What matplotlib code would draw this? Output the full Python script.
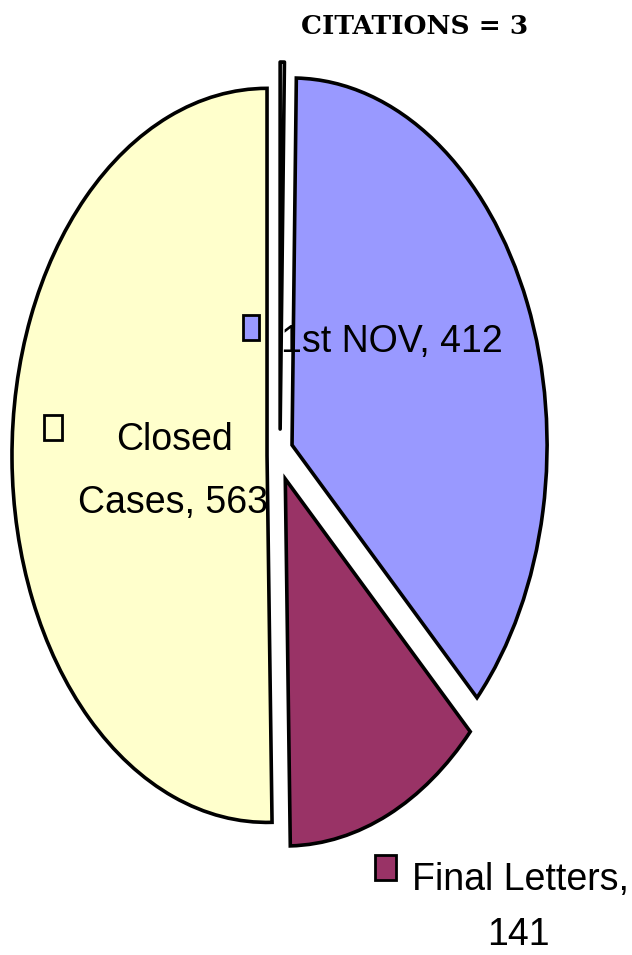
import matplotlib.pyplot as plt
import numpy as np
from matplotlib.patches import Rectangle

labels = ['CITATIONS', '1st NOV', 'Final Letters', 'Closed Cases']
values = [3, 412, 141, 563]
colors = ['#FFFFFF', '#9999FF', '#993366', '#FFFFCC']

W, H = 632, 955
fig = plt.figure(figsize=(W / 100, H / 100), dpi=100)
ax = fig.add_axes([0, 0, 1, 1])

wedges, _ = ax.pie(values, colors=colors, startangle=90, counterclock=False,
                   wedgeprops=dict(edgecolor='black', linewidth=2.6))

# exploded slices (the chart is stretched, so explode differs in x and y)
ex, ey = 0.051, 0.071
for w in wedges:
    mid = np.deg2rad((w.theta1 + w.theta2) / 2)
    w.set_center((ex * np.cos(mid), ey * np.sin(mid)))
wedges[0].set_joinstyle('round')

ax.set_aspect('auto')
ax.set_xlim(-1.098, 1.380)
ax.set_ylim(-1.362, 1.240)
ax.axis('off')


def px(x, y):
    return x / W, 1 - y / H


def key(x0, y0, x1, y1, color):
    fx, fy = px(x0, y1)
    fig.patches.append(Rectangle((fx, fy), (x1 - x0) / W, (y1 - y0) / H,
                                 transform=fig.transFigure, facecolor=color,
                                 edgecolor='black', linewidth=2.0))


font = ['Liberation Sans', 'DejaVu Sans']
fs = 27

key(243, 315, 259, 340, colors[1])
fig.text(*px(281, 352), f'{labels[1]}, {values[1]}', family=font, fontsize=fs,
         ha='left', va='baseline')

key(44, 415, 62, 440, colors[3])
fig.text(*px(174, 450), 'Closed', family=font, fontsize=fs,
         ha='center', va='baseline')
fig.text(*px(173, 513), f'Cases, {values[3]}', family=font, fontsize=fs,
         ha='center', va='baseline')

key(375, 855, 396, 880, colors[2])
fig.text(*px(520, 890), 'Final Letters,', family=font, fontsize=fs,
         ha='center', va='baseline')
fig.text(*px(518, 945), str(values[2]), family=font, fontsize=fs,
         ha='center', va='baseline')

fig.text(*px(415, 26), f'{labels[0]} = {values[0]}', family='DejaVu Serif',
         fontweight='bold', fontsize=19, ha='center', va='center')

fig.savefig('out.png', dpi=100)
